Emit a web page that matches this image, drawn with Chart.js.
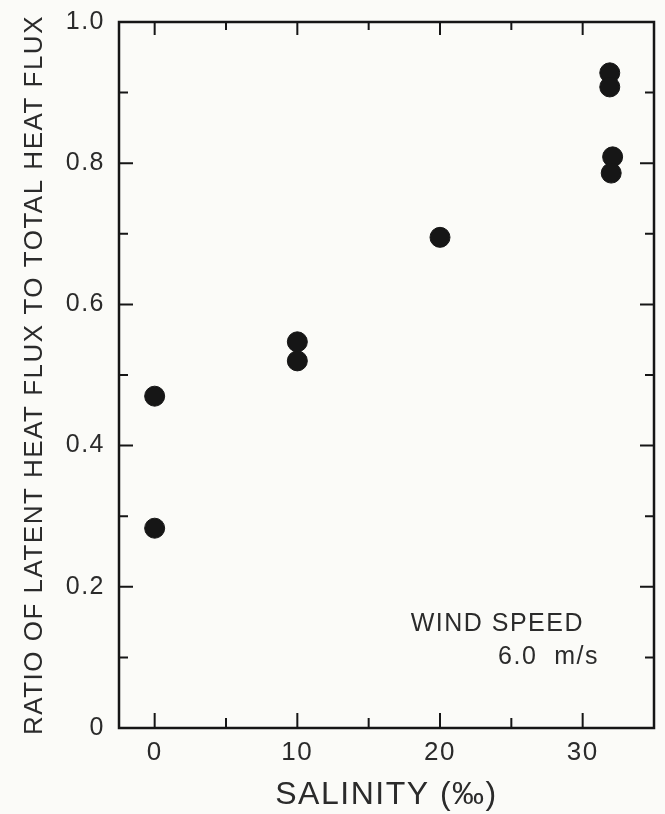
<!DOCTYPE html>
<html>
<head>
<meta charset="utf-8">
<script src="https://cdn.jsdelivr.net/npm/chart.js@4.4.0/dist/chart.umd.min.js"></script>
<style>
    html, body { margin: 0; padding: 0; background: #fbfbf8; }
    #wrap { width: 665px; height: 814px; }
</style>
</head>
<body>
<div id="wrap"><canvas id="fluxChart"></canvas></div>
<script>
// Data
const salinity = [0, 0, 10, 10, 20, 31.9, 31.9, 32.1, 32.0];
const fluxRatio = [0.470, 0.283, 0.547, 0.520, 0.695, 0.928, 0.908, 0.809, 0.786];

// Ticks
const xTickValues = [0, 5, 10, 15, 20, 25, 30];
const xTickLabels = ['0', '', '10', '', '20', '', '30'];
const yTickValues = [0, 0.1, 0.2, 0.3, 0.4, 0.5, 0.6, 0.7, 0.8, 0.9, 1.0];
const yTickLabels = ['0', '', '0.2', '', '0.4', '', '0.6', '', '0.8', '', '1.0'];

const ink = '#161616';
const textColor = '#2b2b2b';
const fontFamily = '"Liberation Sans", Arial, sans-serif';

// Slightly spaced lettering, like the original typesetting
const spacing = {
    id: 'spacing',
    beforeDraw(chart) { chart.ctx.letterSpacing = '1.5px'; }
};

// Draws the frame and inward-pointing tick marks on all four sides
const frameTicks = {
    id: 'frameTicks',
    afterDraw(chart) {
        const { ctx, chartArea: a, scales: { x, y } } = chart;
        ctx.save();
        ctx.strokeStyle = ink;
        ctx.lineWidth = 2;
        x.ticks.forEach((t, i) => {
            const px = x.getPixelForValue(t.value);
            const len = xTickLabels[i] ? 15 : 10;
            ctx.beginPath();
            ctx.moveTo(px, a.bottom); ctx.lineTo(px, a.bottom - len);
            ctx.moveTo(px, a.top); ctx.lineTo(px, a.top + len - 2);
            ctx.stroke();
        });
        y.ticks.forEach((t, i) => {
            const py = y.getPixelForValue(t.value);
            const len = yTickLabels[i] ? 14 : 9;
            ctx.beginPath();
            ctx.moveTo(a.left, py); ctx.lineTo(a.left + len, py);
            ctx.moveTo(a.right, py); ctx.lineTo(a.right - len, py);
            ctx.stroke();
        });
        ctx.lineWidth = 2.5;
        ctx.strokeRect(a.left, a.top, a.right - a.left, a.bottom - a.top);

        // annotation
        ctx.fillStyle = textColor;
        ctx.font = '25px ' + fontFamily;
        ctx.letterSpacing = '1.5px';
        ctx.textAlign = 'right';
        ctx.textBaseline = 'alphabetic';
        ctx.fillText('WIND SPEED', 584, 631);
        ctx.fillText('6.0  m/s', 599, 664);
        ctx.restore();
    }
};

const ctx = document.getElementById('fluxChart').getContext('2d');
const fluxChart = new Chart(ctx, {
    type: 'scatter',
    data: {
        datasets: [{
            data: salinity.map((s, i) => ({ x: s, y: fluxRatio[i] })),
            backgroundColor: ink,
            borderColor: ink,
            pointRadius: 10,
            pointHoverRadius: 10
        }]
    },
    options: {
        responsive: true,
        maintainAspectRatio: false,
        animation: false,
        layout: { padding: { top: 22, right: 9, left: 0, bottom: 0 } },
        plugins: {
            legend: { display: false },
            tooltip: { enabled: false }
        },
        scales: {
            x: {
                type: 'linear',
                min: -2.5,
                max: 35,
                grid: { display: false },
                border: { display: false },
                afterBuildTicks: scale => {
                    scale.ticks = xTickValues.map(v => ({ value: v }));
                },
                afterFit: scale => { scale.height = 86; },
                ticks: {
                    autoSkip: false,
                    maxRotation: 0,
                    padding: 1,
                    color: textColor,
                    font: { family: fontFamily, size: 26 },
                    callback: (value, index) => xTickLabels[index]
                },
                title: {
                    display: true,
                    text: 'SALINITY (‰)',
                    color: textColor,
                    font: { family: fontFamily, size: 32 },
                    padding: { top: 0, bottom: 0 }
                }
            },
            y: {
                min: 0,
                max: 1.0,
                grid: { display: false },
                border: { display: false },
                afterBuildTicks: scale => {
                    scale.ticks = yTickValues.map(v => ({ value: v }));
                },
                afterFit: scale => { scale.width = 119; },
                ticks: {
                    autoSkip: false,
                    padding: 6,
                    color: textColor,
                    font: { family: fontFamily, size: 25 },
                    callback: (value, index) => yTickLabels[index]
                },
                title: {
                    display: true,
                    text: 'RATIO OF LATENT HEAT FLUX TO TOTAL HEAT FLUX',
                    color: textColor,
                    font: { family: fontFamily, size: 26 },
                    padding: { top: 19, bottom: 0 }
                }
            }
        }
    },
    plugins: [spacing, frameTicks]
});
</script>
</body>
</html>
